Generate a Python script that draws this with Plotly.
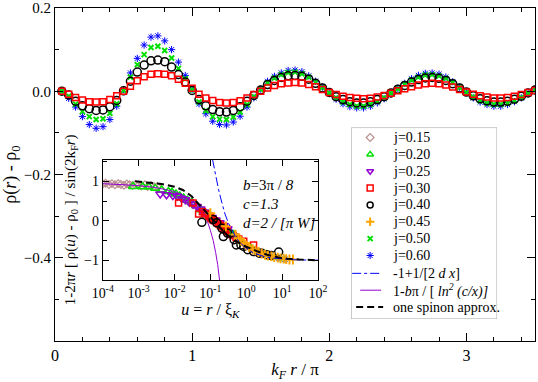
import plotly.graph_objects as go

# main panel: k_F r / pi sample positions
kr = [0.05, 0.10, 0.15, 0.20, 0.25, 0.30, 0.35, 0.40, 0.45, 0.50,
      0.55, 0.60, 0.65, 0.70, 0.75, 0.80, 0.85, 0.90, 0.95, 1.00,
      1.05, 1.10, 1.15, 1.20, 1.25, 1.30, 1.35, 1.40, 1.45, 1.50,
      1.55, 1.60, 1.65, 1.70, 1.75, 1.80, 1.85, 1.90, 1.95, 2.00,
      2.05, 2.10, 2.15, 2.20, 2.25, 2.30, 2.35, 2.40, 2.45, 2.50,
      2.55, 2.60, 2.65, 2.70, 2.75, 2.80, 2.85, 2.90, 2.95, 3.00,
      3.05, 3.10, 3.15, 3.20, 3.25, 3.30, 3.35, 3.40, 3.45, 3.50]

rho_030 = [0.000, -0.007, -0.015, -0.021, -0.025, -0.026, -0.025, -0.020, -0.011, 0.000,
           0.012, 0.025, 0.035, 0.041, 0.042, 0.041, 0.037, 0.029, 0.019, 0.007,
           -0.007, -0.016, -0.022, -0.027, -0.028, -0.027, -0.023, -0.016, -0.008, 0.000,
           0.008, 0.014, 0.018, 0.020, 0.021, 0.020, 0.016, 0.011, 0.004, -0.003,
           -0.008, -0.012, -0.015, -0.017, -0.018, -0.017, -0.014, -0.010, -0.005, 0.001,
           0.006, 0.011, 0.015, 0.018, 0.019, 0.018, 0.015, 0.010, 0.004, -0.002,
           -0.007, -0.011, -0.014, -0.016, -0.016, -0.015, -0.012, -0.008, -0.003, 0.002]

rho_040 = [0.000, -0.009, -0.024, -0.035, -0.042, -0.046, -0.045, -0.037, -0.022, 0.001,
           0.024, 0.046, 0.063, 0.073, 0.075, 0.071, 0.058, 0.040, 0.022, 0.002,
           -0.020, -0.035, -0.044, -0.049, -0.050, -0.046, -0.037, -0.024, -0.010, 0.003,
           0.016, 0.026, 0.033, 0.037, 0.038, 0.036, 0.029, 0.019, 0.008, -0.003,
           -0.013, -0.020, -0.025, -0.028, -0.028, -0.025, -0.020, -0.013, -0.004, 0.005,
           0.014, 0.022, 0.028, 0.032, 0.033, 0.031, 0.026, 0.018, 0.008, -0.002,
           -0.011, -0.018, -0.023, -0.026, -0.026, -0.024, -0.019, -0.012, -0.004, 0.003]

rho_050 = [0.000, -0.012, -0.031, -0.049, -0.061, -0.068, -0.066, -0.053, -0.030, 0.002,
           0.034, 0.064, 0.088, 0.105, 0.108, 0.098, 0.080, 0.055, 0.030, 0.003,
           -0.026, -0.047, -0.061, -0.067, -0.068, -0.062, -0.050, -0.032, -0.013, 0.004,
           0.020, 0.032, 0.040, 0.045, 0.046, 0.042, 0.034, 0.022, 0.009, -0.004,
           -0.016, -0.026, -0.032, -0.036, -0.036, -0.032, -0.025, -0.016, -0.005, 0.006,
           0.017, 0.027, 0.034, 0.039, 0.040, 0.037, 0.031, 0.021, 0.009, -0.003,
           -0.014, -0.023, -0.029, -0.032, -0.032, -0.029, -0.023, -0.015, -0.005, 0.004]

rho_060 = [0.000, -0.017, -0.038, -0.061, -0.080, -0.089, -0.085, -0.068, -0.036, 0.004,
           0.044, 0.079, 0.111, 0.130, 0.133, 0.121, 0.100, 0.070, 0.038, 0.004,
           -0.030, -0.054, -0.072, -0.080, -0.081, -0.074, -0.060, -0.038, -0.016, 0.005,
           0.024, 0.036, 0.044, 0.050, 0.051, 0.047, 0.037, 0.024, 0.010, -0.005,
           -0.019, -0.030, -0.037, -0.040, -0.040, -0.036, -0.028, -0.018, -0.006, 0.007,
           0.019, 0.030, 0.038, 0.043, 0.044, 0.041, 0.034, 0.023, 0.010, -0.003,
           -0.016, -0.026, -0.032, -0.036, -0.036, -0.032, -0.025, -0.016, -0.005, 0.005]

# inset: scaled data vs u = r / xi_K
u_015 = [1.0e-4, 1.2e-4, 1.5e-4, 1.8e-4, 2.2e-4, 2.7e-4, 3.2e-4, 3.9e-4, 4.7e-4, 5.6e-4,
         6.8e-4, 8.2e-4, 1.0e-3, 1.2e-3, 1.5e-3, 1.8e-3, 2.2e-3, 2.7e-3, 3.3e-3]
s_015 = [0.93, 0.95, 0.92, 0.94, 0.91, 0.94, 0.92, 0.90, 0.93, 0.91,
         0.89, 0.92, 0.90, 0.88, 0.91, 0.87, 0.89, 0.86, 0.87]

u_020 = [7e-4, 1.3e-3, 1.9e-3, 2.9e-3, 4.4e-3, 6.8e-3, 8.5e-3, 1.1e-2, 1.4e-2, 1.8e-2,
         2.3e-2, 3.0e-2, 4.0e-2, 5.5e-2, 7.5e-2]
s_020 = [0.87, 0.86, 0.86, 0.82, 0.78, 0.74, 0.72, 0.68, 0.63, 0.58,
         0.52, 0.46, 0.38, 0.28, 0.18]

u_025 = [4.0e-3, 6.0e-3, 9.0e-3, 1.2e-2, 1.6e-2, 2.0e-2, 2.6e-2, 3.3e-2, 4.2e-2, 5.3e-2,
         6.7e-2, 8.5e-2, 0.11, 0.14, 0.18, 0.23, 0.30]
s_025 = [0.68, 0.66, 0.64, 0.62, 0.56, 0.53, 0.47, 0.42, 0.36, 0.30,
         0.22, 0.15, 0.08, 0.02, -0.05, -0.12, -0.20]

u_030 = [0.013, 0.033, 0.047, 0.060, 0.075, 0.090, 0.10, 0.11, 0.12, 0.13, 0.15, 0.17,
         0.19, 0.21, 0.24, 0.27, 0.30, 0.34, 0.38, 0.43, 0.52, 0.62, 0.85, 1.6]
s_030 = [0.45, 0.45, 0.17, 0.23, 0.17, 0.12, 0.08, 0.05, 0.02, 0.00, -0.05, -0.08,
         -0.12, -0.15, -0.20, -0.24, -0.28, -0.32, -0.35, -0.37, -0.42, -0.46, -0.52, -0.61]

u_040 = [0.058, 0.12, 0.15, 0.21, 0.23, 0.30, 0.46, 0.53, 0.71, 0.85, 1.1, 1.6, 2.3, 2.7,
         3.8, 5.0, 8.0]
s_040 = [-0.04, 0.03, -0.05, -0.19, -0.40, -0.31, -0.48, -0.61, -0.61, -0.65, -0.73, -0.78,
         -0.82, -0.82, -0.86, -0.88, -0.79]

u_045 = [0.10, 0.27, 0.50, 0.60, 0.70, 0.85, 1.0, 1.2, 1.5, 1.8, 2.2, 2.7, 3.3, 4.0, 5.0,
         6.0, 7.5, 9.0, 11.0, 13.0, 16.0, 20.0]
s_045 = [0.19, -0.14, -0.35, -0.45, -0.50, -0.56, -0.62, -0.66, -0.72, -0.75, -0.79, -0.83,
         -0.86, -0.88, -0.90, -0.92, -0.93, -0.95, -0.96, -0.97, -0.98, -0.98]

u_050 = [0.4, 0.7, 1.2, 2.0, 3.5, 6.0, 10.0]
s_050 = [-0.30, -0.52, -0.66, -0.77, -0.86, -0.92, -0.96]
u_060 = [0.5, 0.9, 1.5, 2.5, 4.5, 8.0, 12.0]
s_060 = [-0.38, -0.58, -0.71, -0.80, -0.89, -0.94, -0.97]

# theory curves
u_dx = [0.115, 0.14, 0.17, 0.21, 0.26, 0.32, 0.40, 0.50, 0.62, 0.80, 1.0, 1.5, 2.0, 3.0,
        5.0, 10.0, 20.0, 50.0, 100.0]
s_dx = [1.55, 1.15, 0.78, 0.45, 0.15, -0.06, -0.25, -0.40, -0.52, -0.62, -0.70, -0.80,
        -0.85, -0.90, -0.94, -0.97, -0.985, -0.994, -0.997]

u_ln = [1e-4, 3e-4, 1e-3, 3e-3, 1e-2, 2e-2, 4e-2, 6e-2, 8e-2, 0.10, 0.12, 0.14, 0.16, 0.18]
s_ln = [0.94, 0.92, 0.89, 0.84, 0.74, 0.62, 0.42, 0.22, 0.02, -0.24, -0.50, -0.80, -1.11, -1.50]

u_sp = [8e-4, 2e-3, 4.4e-3, 1e-2, 1.7e-2, 3e-2, 5e-2, 8e-2, 0.12, 0.20, 0.28, 0.50, 0.85,
        2.0, 3.8, 8.0, 14.0, 30.0, 100.0]
s_sp = [1.0, 0.97, 0.93, 0.86, 0.78, 0.62, 0.40, 0.18, 0.0, -0.20, -0.35, -0.50, -0.63,
        -0.77, -0.86, -0.93, -0.96, -0.98, -1.0]

inset_ticks = [1e-4, 1e-3, 1e-2, 1e-1, 1, 10, 100]
inset_ticktext = ["10<sup>-4</sup>", "10<sup>-3</sup>", "10<sup>-2</sup>", "10<sup>-1</sup>",
                  "10<sup>0</sup>", "10<sup>1</sup>", "10<sup>2</sup>"]

SERIF = "Liberation Serif"
GREEN = "#00e000"
BROWN = "#bc8f8f"
VIOLET = "#9400d3"
ORANGE = "#ffa500"

# marker styles per series
sty = {
    "0.15": dict(symbol="diamond-open", size=6, color=BROWN, line=dict(color=BROWN, width=1.2)),
    "0.20": dict(symbol="triangle-up-open", size=8, color=GREEN, line=dict(color=GREEN, width=1.5)),
    "0.25": dict(symbol="triangle-down-open", size=8, color=VIOLET, line=dict(color=VIOLET, width=1.5)),
    "0.30": dict(symbol="square-open", size=6, color="red", line=dict(color="red", width=1.5)),
    "0.40": dict(symbol="circle-open", size=8, color="black", line=dict(color="black", width=1.5)),
    "0.45": dict(symbol="cross-thin-open", size=7, color=ORANGE, line=dict(color=ORANGE, width=2)),
    "0.50": dict(symbol="x-thin-open", size=5, color=GREEN, line=dict(color=GREEN, width=2)),
    "0.60": dict(symbol="asterisk-open", size=6, color="blue", line=dict(color="blue", width=1)),
}

fig = go.Figure()

# main panel (back to front)
for key, yv in [("0.60", rho_060), ("0.50", rho_050), ("0.40", rho_040), ("0.30", rho_030)]:
    fig.add_scatter(x=kr, y=yv, mode="markers", showlegend=False, marker=sty[key])

# inset
ins = dict(xaxis="x2", yaxis="y2", showlegend=False)
fig.add_scatter(x=u_015, y=s_015, mode="markers", marker=sty["0.15"], **ins)
fig.add_scatter(x=u_020, y=s_020, mode="markers", marker=sty["0.20"], **ins)
fig.add_scatter(x=u_025, y=s_025, mode="markers", marker=sty["0.25"], **ins)
fig.add_scatter(x=u_ln, y=s_ln, mode="lines", line=dict(color=VIOLET, width=1), **ins)
fig.add_scatter(x=u_030, y=s_030, mode="markers", marker=sty["0.30"], **ins)
fig.add_scatter(x=u_060, y=s_060, mode="markers", marker=sty["0.60"], **ins)
fig.add_scatter(x=u_050, y=s_050, mode="markers", marker=sty["0.50"], **ins)
fig.add_scatter(x=u_040, y=s_040, mode="markers", marker=sty["0.40"], **ins)
fig.add_scatter(x=u_045, y=s_045, mode="markers", marker=sty["0.45"], **ins)
fig.add_scatter(x=u_dx, y=s_dx, mode="lines", line=dict(color="blue", width=1, dash="dashdot"), **ins)
fig.add_scatter(x=u_sp, y=s_sp, mode="lines", line=dict(color="black", width=2, dash="7px,4px"), **ins)

# hand-built legend on its own unit axes (box is 146 x 192 px, units = px)
leg = dict(xaxis="x3", yaxis="y3", showlegend=False, hoverinfo="skip")
row_h = 16.9
labels = ["j=0.15", "j=0.20", "j=0.25", "j=0.30", "j=0.40", "j=0.45", "j=0.50", "j=0.60"]
annotations = []
for i, lab in enumerate(labels):
    yc = 10 + row_h * i
    mk = dict(sty[lab[2:]])
    mk["size"] = 6 if lab[2:] not in ("0.50",) else 5
    fig.add_scatter(x=[19], y=[yc], mode="markers", marker=mk, **leg)
    annotations.append(dict(x=40, y=yc, xref="x3", yref="y3", text=lab, showarrow=False,
                            xanchor="left", yanchor="middle", font=dict(size=14)))
line_items = [
    ("-1+1/[2 <i>d x</i>]", dict(color="blue", width=1, dash="dashdot"), [1, 31]),
    ("1-<i>b</i>π / [ <i>ln<sup>2</sup> (c/x)]</i>", dict(color=VIOLET, width=1), [9, 30]),
    ("one spinon approx.", dict(color="black", width=2, dash="7px,4px"), [5, 32]),
]
for j, (lab, ln, xs) in enumerate(line_items):
    yc = 10 + row_h * (8 + j) + 1
    fig.add_scatter(x=xs, y=[yc, yc], mode="lines", line=ln, **leg)
    annotations.append(dict(x=40, y=yc, xref="x3", yref="y3", text=lab, showarrow=False,
                            xanchor="left", yanchor="middle", font=dict(size=14)))

annotations += [
    dict(x=0.387, y=0.469, xref="paper", yref="paper", showarrow=False, xanchor="left",
         text="<i>b</i>=3π / <i>8</i>", font=dict(size=15)),
    dict(x=0.387, y=0.411, xref="paper", yref="paper", showarrow=False, xanchor="left",
         text="<i>c=1.3</i>", font=dict(size=15)),
    dict(x=0.387, y=0.354, xref="paper", yref="paper", showarrow=False, xanchor="left",
         text="<i>d=2 / [π W]</i>", font=dict(size=15)),
]

axis_common = dict(showline=True, linecolor="black", linewidth=1, mirror="ticks",
                   ticks="inside", tickcolor="black", showgrid=False, zeroline=False,
                   automargin=False)

fig.update_layout(
    width=538, height=382,
    margin=dict(l=55, r=3, t=8, b=41),
    paper_bgcolor="white", plot_bgcolor="rgba(0,0,0,0)",
    font=dict(family=SERIF, size=15, color="black"),
    showlegend=False,
    xaxis=dict(range=[0, 3.5], tickvals=[0, 1, 2, 3], ticklen=8,
               minor=dict(dtick=0.2, ticklen=4, ticks="inside", tickcolor="black"),
               title=dict(text="<i>k<sub>F</sub> r</i> / π", font=dict(size=17), standoff=2),
               tickfont=dict(size=16), **axis_common),
    yaxis=dict(range=[-0.6, 0.2], tickvals=[-0.4, -0.2, 0.0, 0.2], tickformat=".1f",
               ticklen=8, ticklabeloverflow="allow",
               minor=dict(dtick=0.1, ticklen=4, ticks="inside", tickcolor="black"),
               title=dict(text="ρ(<i>r</i>) - ρ<sub>0</sub>", font=dict(size=18), standoff=6),
               tickfont=dict(size=15), **axis_common),
    xaxis2=dict(type="log", range=[-4, 2], domain=[0.0994, 0.548], anchor="y2",
                tickvals=inset_ticks, ticktext=inset_ticktext, ticklen=6,
                title=dict(text="<i>u</i> = <i>r</i> / ξ<sub><i>K</i></sub>", font=dict(size=16),
                           standoff=2),
                tickfont=dict(size=14), **axis_common),
    yaxis2=dict(range=[-1.5, 1.55], domain=[0.183, 0.545], anchor="x2",
                tickvals=[-1, 0, 1], ticklen=6,
                minor=dict(dtick=0.5, ticklen=4, ticks="inside", tickcolor="black"),
                title=dict(text="1-2π<i>r</i> [ ρ(<i>u</i>) - ρ<sub>0</sub> ] / sin(2k<sub>F</sub><i>r</i>)",
                           font=dict(size=15), standoff=4),
                tickfont=dict(size=14), **axis_common),
    xaxis3=dict(domain=[0.617, 0.921], range=[0, 146], anchor="y3", visible=False, fixedrange=True),
    yaxis3=dict(domain=[0.066, 0.641], range=[192, 0], anchor="x3", visible=False, fixedrange=True),
    shapes=[dict(type="rect", xref="x3", yref="y3", x0=0, x1=146, y0=0, y1=192,
                 line=dict(color="#a0a0a0", width=1), fillcolor="white", layer="below")],
    annotations=annotations,
)

fig.write_html("out.html", config={"displayModeBar": False},
               post_script="document.body.style.margin='0px';")
